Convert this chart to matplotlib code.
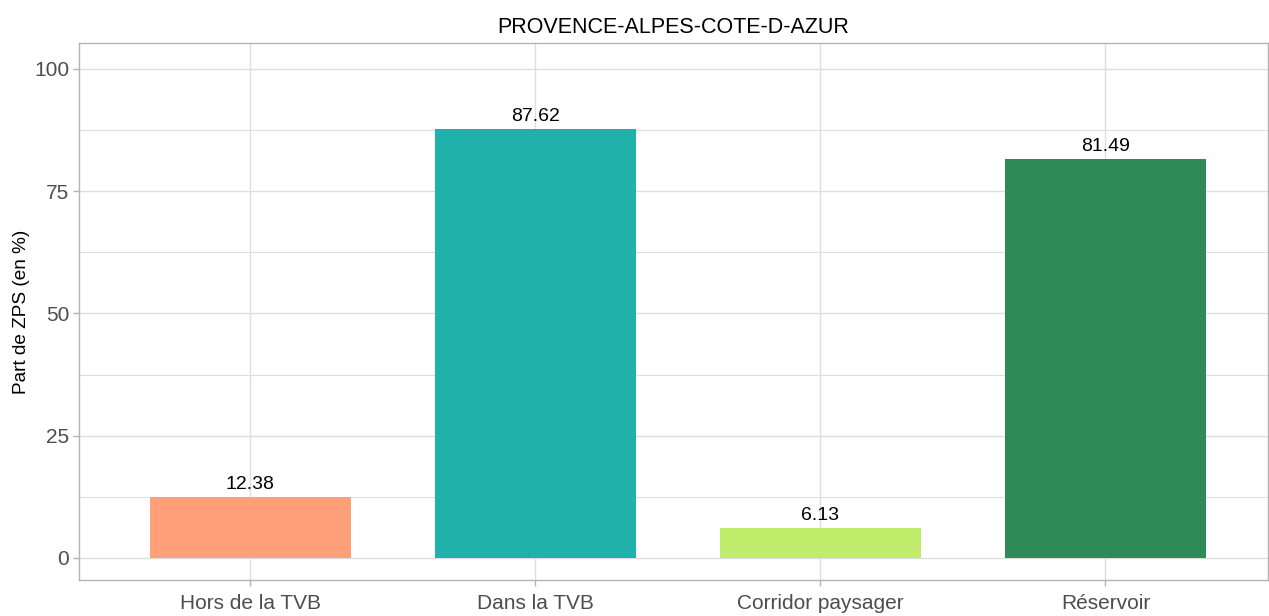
import matplotlib
matplotlib.use("Agg")
import matplotlib.pyplot as plt
from matplotlib.ticker import MultipleLocator

plt.rcParams['font.family'] = ['Liberation Sans', 'DejaVu Sans']

categories = ["Hors de la TVB", "Dans la TVB", "Corridor paysager", "Réservoir"]
values = [12.38, 87.62, 6.13, 81.49]
colors = ["#FFA07A", "#20B2AA", "#BFEC6A", "#2E8B57"]
title = "PROVENCE-ALPES-COTE-D-AZUR"
ylabel = "Part de ZPS (en %)"

fig = plt.figure(figsize=(12.69, 6.16), dpi=100)
ax = fig.add_axes([79 / 1269, 1 - 580 / 616, (1268 - 79) / 1269, (580 - 43) / 616])

x = list(range(len(categories)))
ax.bar(x, values, width=0.705, color=colors, zorder=2)
for xi, v in zip(x, values):
    ax.annotate(f"{v:.2f}", (xi, v), xytext=(0, 3), textcoords="offset points",
                ha="center", va="bottom", fontsize=14, color="black", zorder=3)

ax.set_xlim(-0.6, len(categories) - 1 + 0.57)
ax.set_ylim(-4.5, 105.3)
ax.set_xticks(x)
ax.set_xticklabels(categories)
ax.yaxis.set_major_locator(MultipleLocator(25))
ax.yaxis.set_minor_locator(MultipleLocator(12.5))

grid_col = "#DEDEDE"
ax.grid(True, which="major", color=grid_col, linewidth=1.0, zorder=0)
ax.grid(True, which="minor", axis="y", color=grid_col, linewidth=0.8, zorder=0)
ax.set_axisbelow(True)

for sp in ax.spines.values():
    sp.set_color("#B3B3B3")
    sp.set_linewidth(1.0)

ax.tick_params(axis="both", which="major", length=4, color="#B3B3B3", width=1,
               labelsize=15, labelcolor="#4D4D4D", pad=3)
ax.tick_params(axis="x", which="major", pad=6)
ax.tick_params(axis="y", which="minor", length=0)

ax.set_ylabel(ylabel, fontsize=13.7, color="black", labelpad=3)
ax.set_title(title, fontsize=15.5, color="black", pad=7)

fig.savefig("out.png", dpi=100)
